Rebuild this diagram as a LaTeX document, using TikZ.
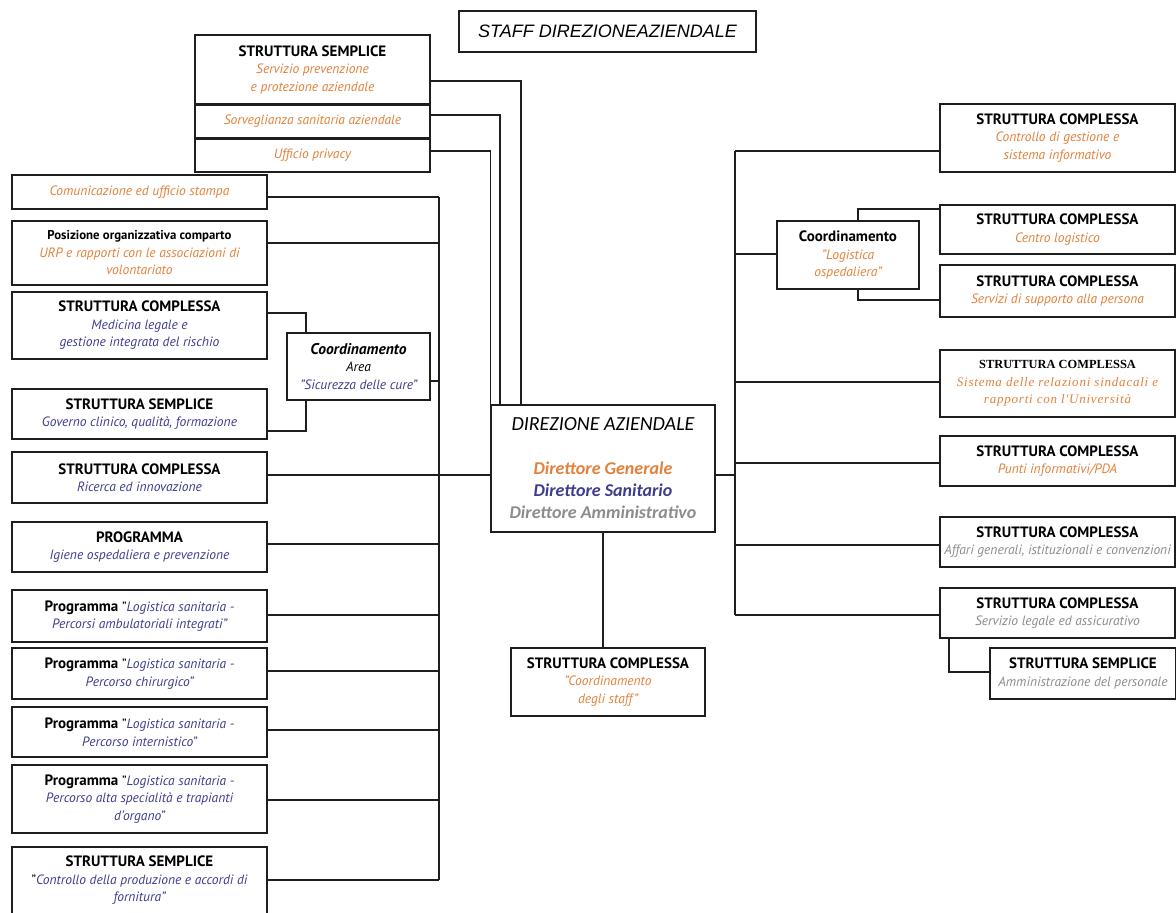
\documentclass[tikz,border=0pt]{standalone}
\usepackage{fontspec}
\setmainfont{PT Sans}
\newfontfamily\titlefont{Liberation Sans}
\newfontfamily\dirfont{Carlito}
\newfontfamily\serifboxfont{Liberation Serif}
\usetikzlibrary{calc}

\definecolor{orgtxt}{HTML}{E3813A}
\definecolor{blutxt}{HTML}{3D3D8F}
\definecolor{grytxt}{HTML}{8C8C8C}
\definecolor{linec}{HTML}{1E1E1E}

% text helpers
\newcommand\boxhead[1]{{\fontsize{15}{17.5}\selectfont\bfseries #1}}
\newcommand\txtorange[1]{{\color{orgtxt}\itshape #1}}
\newcommand\txtblue[1]{{\color{blutxt}\itshape #1}}
\newcommand\txtgray[1]{{\color{grytxt}\itshape #1}}

\tikzset{
  box/.style={draw=linec, line width=1.4pt, rectangle, inner sep=0pt,
    align=center, text=black, font=\fontsize{13.5}{17.5}\selectfont},
  conn/.style={draw=linec, line width=1.4pt},
  sep/.style={draw=linec, line width=2.6pt},
}

\begin{document}
\begin{tikzpicture}[x=1pt, y=-1pt]
\useasboundingbox (0,0) rectangle (1176,913);
\fill[white] (0,0) rectangle (1176,913);

% ---- title
\node[box, minimum width=297pt, minimum height=41pt, font=\titlefont\itshape\fontsize{18}{20}\selectfont]
  (title) at (607.5,31.5) {STAFF DIREZIONEAZIENDALE};

% ---- staff boxes on top
\node[box, minimum width=235pt, minimum height=69pt] (spp) at (312.5,69.5)
  {\boxhead{STRUTTURA SEMPLICE}\\\txtorange{Servizio prevenzione}\\\txtorange{e protezione aziendale}};
\node[box, minimum width=235pt, minimum height=34pt] (sorv) at (312.5,121)
  {\txtorange{Sorveglianza sanitaria aziendale}};
\node[box, minimum width=235pt, minimum height=34pt] (priv) at (312.5,155)
  {\txtorange{Ufficio privacy}};
\draw[sep] (spp.south west) -- (spp.south east);
\draw[sep] (sorv.south west) -- (sorv.south east);

% ---- central direction
\node[box, minimum width=224pt, minimum height=127pt, font=\dirfont\fontsize{18}{22}\selectfont]
  (dir) at (603,468.5)
  {{\fontsize{20}{22}\selectfont\itshape DIREZIONE AZIENDALE}\\[22pt]
   {\bfseries\itshape\color{orgtxt}Direttore Generale}\\
   {\bfseries\itshape\color{blutxt}Direttore Sanitario}\\
   {\bfseries\itshape\color{grytxt}Direttore Amministrativo}};

\node[box, minimum width=194pt, minimum height=68pt] (stc) at (608,682)
  {\boxhead{STRUTTURA COMPLESSA}\\\txtorange{"Coordinamento}\\\txtorange{degli staff"}};

% ---- left column
\node[box, minimum width=255pt, minimum height=34pt] (com) at (139.5,192)
  {\txtorange{Comunicazione ed ufficio stampa}};
\node[box, minimum width=255pt, minimum height=64pt] (pos) at (139.5,253)
  {{\fontsize{12.8}{17.5}\selectfont\bfseries Posizione organizzativa comparto}\\
   \txtorange{URP e rapporti con le associazioni di}\\\txtorange{volontariato}};
\node[box, minimum width=255pt, minimum height=67pt] (med) at (139.5,325.5)
  {\boxhead{STRUTTURA COMPLESSA}\\\txtblue{Medicina legale e}\\\txtblue{gestione integrata del rischio}};
\node[box, minimum width=255pt, minimum height=50pt] (gov) at (139.5,414)
  {\boxhead{STRUTTURA SEMPLICE}\\\txtblue{Governo clinico, qualità, formazione}};
\node[box, minimum width=143pt, minimum height=67pt] (coordL) at (358.5,366.5)
  {{\fontsize{15.5}{17.5}\selectfont\bfseries\itshape Coordinamento}\\{\itshape Area}\\\txtblue{"Sicurezza delle cure"}};
\node[box, minimum width=255pt, minimum height=51pt] (ric) at (139.5,477.5)
  {\boxhead{STRUTTURA COMPLESSA}\\\txtblue{Ricerca ed innovazione}};
\node[box, minimum width=255pt, minimum height=50pt] (prog) at (139.5,547)
  {\boxhead{PROGRAMMA}\\\txtblue{Igiene ospedaliera e prevenzione}};
\node[box, minimum width=255pt, minimum height=52pt] (pa) at (139.5,616)
  {\boxhead{Programma} "\txtblue{Logistica sanitaria -}\\\txtblue{Percorsi ambulatoriali integrati"}};
\node[box, minimum width=255pt, minimum height=51pt] (pb) at (139.5,673.5)
  {\boxhead{Programma} "\txtblue{Logistica sanitaria -}\\\txtblue{Percorso chirurgico"}};
\node[box, minimum width=255pt, minimum height=50pt] (pc) at (139.5,732)
  {\boxhead{Programma} "\txtblue{Logistica sanitaria -}\\\txtblue{Percorso internistico"}};
\node[box, minimum width=255pt, minimum height=68pt] (pd) at (139.5,799)
  {\boxhead{Programma} "\txtblue{Logistica sanitaria -}\\\txtblue{Percorso alta specialità e trapianti}\\\txtblue{d'organo"}};
\node[box, minimum width=255pt, minimum height=67pt] (ctrl) at (139.5,880.5)
  {\boxhead{STRUTTURA SEMPLICE}\\"\txtblue{Controllo della produzione e accordi di}\\\txtblue{fornitura"}};

% ---- right column
\node[box, minimum width=235pt, minimum height=68pt] (cg) at (1057.5,138)
  {\boxhead{STRUTTURA COMPLESSA}\\\txtorange{Controllo di gestione e}\\\txtorange{sistema informativo}};
\node[box, minimum width=142pt, minimum height=68pt] (coordR) at (848,255)
  {{\fontsize{15}{17.5}\selectfont\bfseries Coordinamento}\\\txtorange{"Logistica}\\\txtorange{ospedaliera"}};
\node[box, minimum width=235pt, minimum height=49pt] (cl) at (1057.5,229.5)
  {\boxhead{STRUTTURA COMPLESSA}\\\txtorange{Centro logistico}};
\node[box, minimum width=235pt, minimum height=52pt] (ssp) at (1057.5,291)
  {\boxhead{STRUTTURA COMPLESSA}\\\txtorange{Servizi di supporto alla persona}};
\node[box, minimum width=235pt, minimum height=67pt, font=\serifboxfont\fontsize{13}{17.5}\selectfont]
  (sis) at (1057.5,383.5)
  {{\fontsize{12.4}{17.5}\selectfont\bfseries STRUTTURA COMPLESSA}\\
   {\addfontfeatures{LetterSpace=6}\txtorange{Sistema delle relazioni sindacali e}}\\
   {\addfontfeatures{LetterSpace=6}\txtorange{rapporti con l'Università}}};
\node[box, minimum width=235pt, minimum height=50pt] (pi) at (1057.5,461)
  {\boxhead{STRUTTURA COMPLESSA}\\\txtorange{Punti informativi/PDA}};
\node[box, minimum width=235pt, minimum height=50pt] (aff) at (1057.5,542)
  {\boxhead{STRUTTURA COMPLESSA}\\\txtgray{Affari generali, istituzionali e convenzioni}};
\node[box, minimum width=235pt, minimum height=50pt] (leg) at (1057.5,613)
  {\boxhead{STRUTTURA COMPLESSA}\\\txtgray{Servizio legale ed assicurativo}};
\node[box, minimum width=186pt, minimum height=51pt] (amm) at (1083,673.5)
  {\boxhead{STRUTTURA SEMPLICE}\\\txtgray{Amministrazione del personale}};

% ---- bus lines
\coordinate (busL) at (439,0);
\coordinate (busR) at (735,0);

% left bus
\draw[conn] ([yshift=-5pt]com.east -| busL) -- ([yshift=0.5pt]ctrl.east -| busL);
\draw[conn] ([yshift=-5pt]com.east) -- ([yshift=-5pt]com.east -| busL);
\draw[conn] ([yshift=10pt]pos.east) -- ([yshift=10pt]pos.east -| busL);
\draw[conn] ([yshift=-14.5pt]coordL.east) -- ([yshift=-14.5pt]coordL.east -| busL);
\draw[conn] ([yshift=2.5pt]ric.east) -- ([yshift=2.5pt]ric.east -| dir.west);
\draw[conn] ([yshift=3pt]prog.east) -- ([yshift=3pt]prog.east -| busL);
\draw[conn] ([yshift=1pt]pa.east) -- ([yshift=1pt]pa.east -| busL);
\draw[conn] ([yshift=2.5pt]pb.east) -- ([yshift=2.5pt]pb.east -| busL);
\draw[conn] ([yshift=2pt]pc.east) -- ([yshift=2pt]pc.east -| busL);
\draw[conn] ([yshift=-1pt]pd.east) -- ([yshift=-1pt]pd.east -| busL);
\draw[conn] ([yshift=0.5pt]ctrl.east) -- ([yshift=0.5pt]ctrl.east -| busL);

% safety-of-care coordination
\draw[conn] ([yshift=12.5pt]med.east) -| ([xshift=-52.5pt]coordL.north);
\draw[conn] ([xshift=-52.5pt]coordL.south) |- ([yshift=-17pt]gov.east);

% staff boxes to the direction
\draw[conn] ([yshift=-11.5pt]spp.east) -| ([xshift=-82pt]dir.north);
\draw[conn] ([yshift=6pt]sorv.east) -| ([xshift=-103pt]dir.north);
\draw[conn] ([yshift=4pt]priv.east) -| (dir.north west);

% right bus
\draw[conn] ([yshift=-13pt]cg.west -| busR) -- ([yshift=-2pt]leg.west -| busR);
\draw[conn] ([yshift=-13pt]cg.west) -- ([yshift=-13pt]cg.west -| busR);
\draw[conn] ([yshift=1pt]coordR.west) -- ([yshift=1pt]coordR.west -| busR);
\draw[conn] ([yshift=1.5pt]sis.west) -- ([yshift=1.5pt]sis.west -| busR);
\draw[conn] ([yshift=-6.5pt]dir.east) -- ([yshift=-6.5pt]dir.east -| busR);
\draw[conn] ([yshift=-2pt]pi.west) -- ([yshift=-2pt]pi.west -| busR);
\draw[conn] ([yshift=-3pt]aff.west) -- ([yshift=-3pt]aff.west -| busR);
\draw[conn] ([yshift=-2pt]leg.west) -- ([yshift=-2pt]leg.west -| busR);

% hospital logistics coordination
\draw[conn] ([xshift=10pt]coordR.north) |- ([yshift=20.5pt]cl.west);
\draw[conn] ([xshift=10pt]coordR.south) |- ([yshift=-9pt]ssp.west);

% legal service to personnel administration
\draw[conn] ([xshift=-108.5pt]leg.south) |- ([yshift=1.5pt]amm.west);

% direction to staff coordination
\draw[conn] (dir.south) -- (dir.south |- stc.north);
\end{tikzpicture}
\end{document}
